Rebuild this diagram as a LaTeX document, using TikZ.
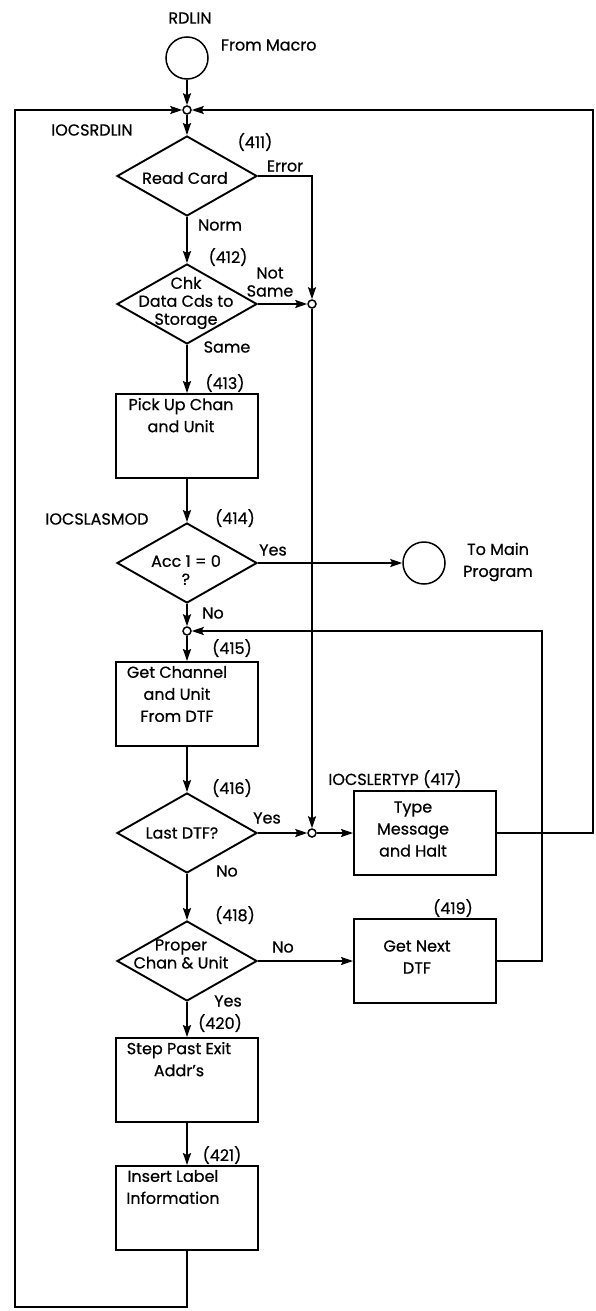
\documentclass[tikz,border=0pt]{standalone}
\usepackage{fontspec}
\setmainfont{Poppins}[FakeBold=0.6]
\usetikzlibrary{arrows.meta, positioning, shapes.geometric}

\begin{document}
\begin{tikzpicture}[
        x=1pt, y=-1pt,
        line width=1.9pt,
        font=\fontsize{16}{22}\selectfont,
        proc/.style={draw, rectangle, minimum width=142pt, minimum height=84pt, inner sep=0pt},
        decide/.style={draw, diamond, minimum width=140pt, minimum height=80pt, inner sep=0pt},
        term/.style={draw, circle, line width=1.5pt, minimum size=42pt, inner sep=0pt},
        dot/.style={draw, circle, line width=1.5pt, fill=white, minimum size=8pt, inner sep=0pt},
        btext/.style={align=center, inner sep=0pt, font=\fontsize{16}{22}\selectfont},
        dtext/.style={align=center, inner sep=0pt, font=\fontsize{16}{18}\selectfont},
        tag/.style={inner sep=0pt},
        arrow/.style={-{Stealth[length=12pt, width=8pt, inset=2pt]}}
    ]
        \useasboundingbox (0,0) rectangle (595,1311);

        % --- entry ---
        \node[tag] (rdlin) at (190,18) {RDLIN};
        \node[term] (entry) at (187,58) {};
        \node[tag, anchor=west] (frommacro) at (220,45) {From Macro};
        \node[dot] (j1) at (187,110) {};
        \node[tag] (iocsrdlin) at (92,130) {IOCSRDLIN};

        % --- read card (411) ---
        \node[tag] (n411) at (255,142) {(411)};
        \node[decide] (rc) at (187,176) {};
        \node[dtext] (rct) at (185,178) {Read Card};
        \node[tag] (lerr) at (285,166) {Error};
        \node[tag] (lnorm) at (220,225) {Norm};

        % --- check data cards (412) ---
        \node[tag] (n412) at (228,257) {(412)};
        \node[decide] (chk) at (187,304) {};
        \node[dtext] (chkt) at (186,303) {Chk\\Data Cds to\\Storage};
        \node[tag, dtext] (lnotsame) at (270,282) {Not\\Same};
        \node[dot] (j2) at (312,304) {};
        \node[tag] (lsame) at (227,347) {Same};

        % --- pick up chan (413) ---
        \node[tag] (n413) at (225,383) {(413)};
        \node[proc] (pick) at (187,436) {};
        \node[btext, below=4pt of pick.north, xshift=-6pt] (pickt) {Pick Up Chan\\and Unit};

        % --- acc test (414) ---
        \node[tag] (iocslasmod) at (97,519) {IOCSLASMOD};
        \node[tag] (n414) at (235,518) {(414)};
        \node[decide] (acc) at (187,563) {};
        \node[dtext] (acct) at (186,570) {Acc 1 = 0\\?};
        \node[tag] (lyes1) at (273,550) {Yes};
        \node[term] (exit) at (424,563) {};
        \node[btext] (tomain) at (498,562) {To Main\\Program};
        \node[tag] (lno1) at (213,613) {No};
        \node[dot] (j3) at (187,631) {};

        % --- get channel (415) ---
        \node[tag] (n415) at (232,648) {(415)};
        \node[proc] (getch) at (187,704) {};
        \node[btext, below=4pt of getch.north, xshift=-10pt] (getcht) {Get Channel\\and Unit\\From DTF};

        % --- last DTF (416) and type message (417) ---
        \node[tag] (n416) at (232,788) {(416)};
        \node[decide] (last) at (187,833) {};
        \node[dtext] (lastt) at (182,833) {Last DTF?};
        \node[tag] (lyes2) at (267,818) {Yes};
        \node[dot] (j4) at (312,833) {};
        \node[tag] (n417) at (395,779) {IOCSLERTYP (417)};
        \node[proc] (type) at (425,833) {};
        \node[btext] (typet) at (413,829) {Type\\Message\\and Halt};
        \node[tag] (lno2) at (227,871) {No};

        % --- proper chan (418) and next DTF (419) ---
        \node[tag] (n418) at (235,915) {(418)};
        \node[decide] (proper) at (187,961) {};
        \node[dtext] (propert) at (181,954) {Proper\\Chan \& Unit};
        \node[tag] (lno3) at (283,947) {No};
        \node[tag] (n419) at (453,908) {(419)};
        \node[proc] (next) at (425,961) {};
        \node[btext] (nextt) at (417,957) {Get Next\\DTF};
        \node[tag] (lyes3) at (228,1001) {Yes};

        % --- step past (420) and insert label (421) ---
        \node[tag] (n420) at (220,1023) {(420)};
        \node[proc] (step) at (187,1080) {};
        \node[btext, below=4pt of step.north, xshift=-8pt] (stept) {Step Past Exit\\Addr's};
        \node[tag] (n421) at (222,1155) {(421)};
        \node[proc] (insert) at (187,1208) {};
        \node[btext, below=4pt of insert.north, xshift=-14pt] (insertt) {Insert Label\\Information};

        % --- loop corners ---
        \coordinate (outer-sw) at (15,1307);
        \coordinate (outer-ne) at (593,110);
        \coordinate (inner-e) at (542,631);

        % --- main column ---
        \draw[arrow] (entry) -- (j1);
        \draw[arrow] (j1) -- (rc);
        \draw[arrow] (rc) -- (chk);
        \draw[arrow] (chk) -- (pick);
        \draw[arrow] (pick) -- (acc);
        \draw[arrow] (acc) -- (j3);
        \draw[arrow] (j3) -- (getch);
        \draw[arrow] (getch) -- (last);
        \draw[arrow] (last) -- (proper);
        \draw[arrow] (proper) -- (step);
        \draw[arrow] (step) -- (insert);

        % --- side branches ---
        \draw[arrow] (rc.east) -| (j2.north);
        \draw[arrow] (chk.east) -- (j2.west);
        \draw[arrow] (j2.south) -- (j4.north);
        \draw[arrow] (acc.east) -- (exit.west);
        \draw[arrow] (last.east) -- (j4.west);
        \draw[arrow] (j4.east) -- (type.west);
        \draw[arrow] (proper.east) -- (next.west);

        % --- loops back ---
        \draw[arrow] (insert.south) |- (outer-sw) |- (j1.west);
        \draw[arrow] (type.east) -| (outer-ne) -- (j1.east);
        \draw[arrow] (next.east) -| (inner-e) -- (j3.east);

    \end{tikzpicture}
\end{document}
